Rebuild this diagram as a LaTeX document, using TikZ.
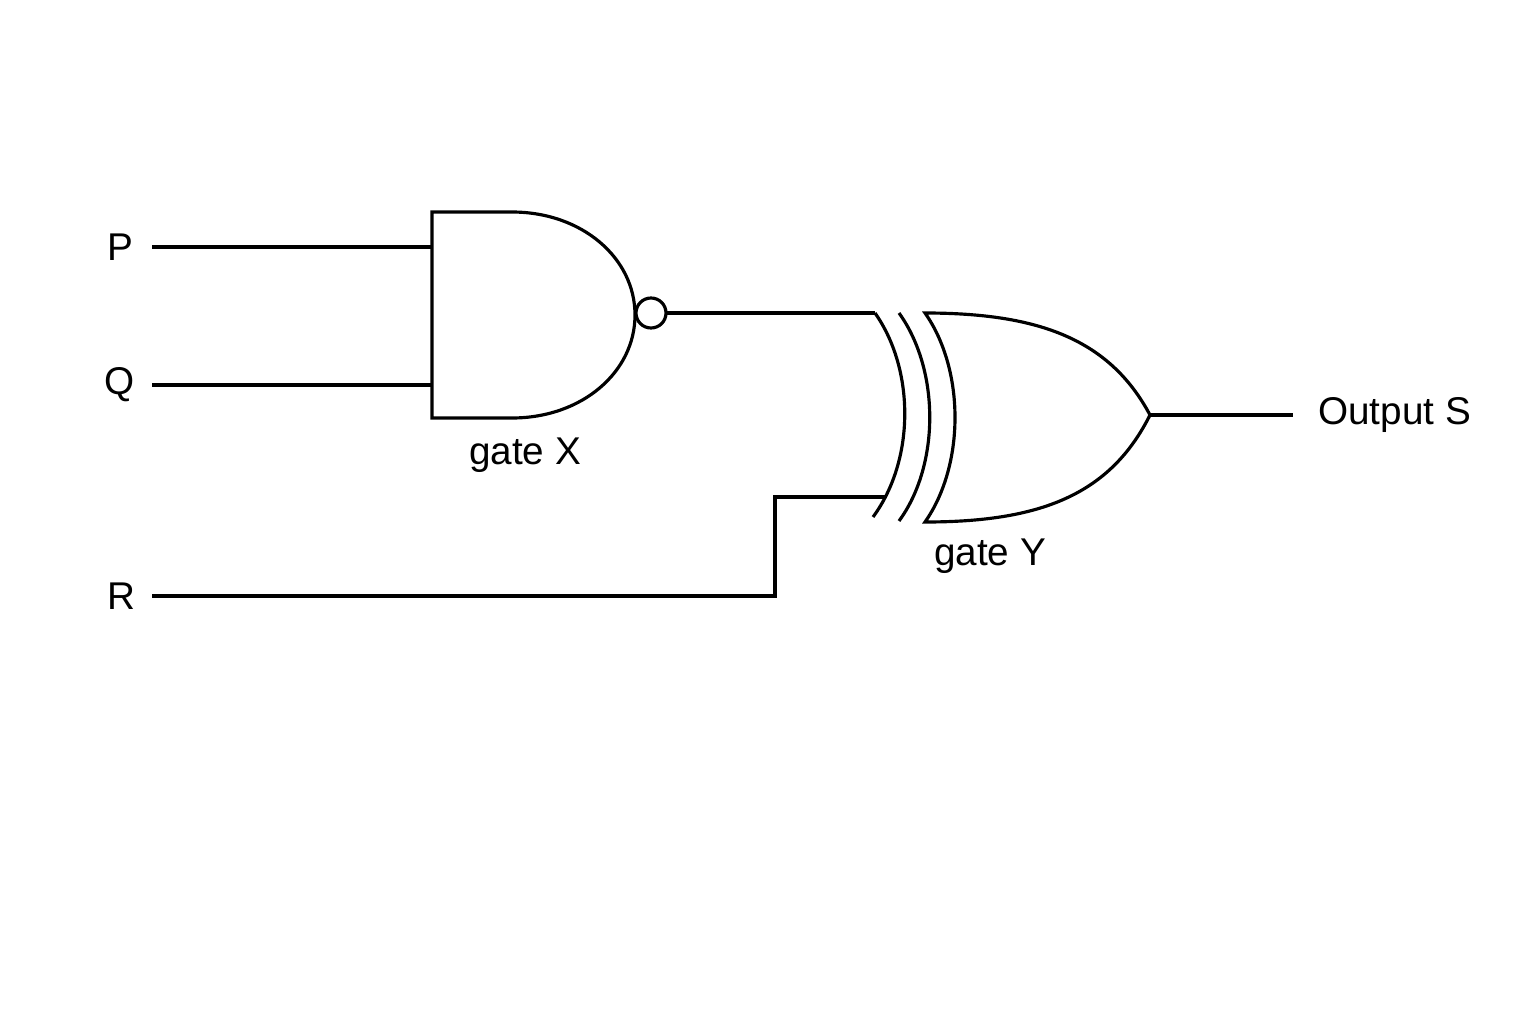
\documentclass[tikz,border=0pt]{standalone}
\usepackage{fontspec}
\setmainfont{Liberation Sans}
\begin{document}
\begin{tikzpicture}[x=0.01cm,y=-0.01cm,line width=0.9pt,
  lbl/.style={font=\fontsize{11}{13}\selectfont}]
\useasboundingbox (0,0) rectangle (1536,1024);
% labels
\node[lbl] (P) at (120,247) {P};
\node[lbl] (Q) at (120,385) {Q};
\node[lbl] (R) at (121,596) {R};
\node[lbl,anchor=west] (S) at (1305,415) {Output S};
\node[lbl] (gx) at (525,455) {gate X};
\node[lbl] (gy) at (990,556) {gate Y};
% coordinates
\coordinate (Pin) at (152,247);
\coordinate (Qin) at (152,385);
\coordinate (Rin) at (152,596);
\coordinate (XA) at (432,247);
\coordinate (XB) at (432,385);
\coordinate (Xout) at (666,313);
\coordinate (YA) at (875,313);
\coordinate (YB) at (885,497);
\coordinate (Rb) at (775,596);
\coordinate (Yout) at (1150,415);
\coordinate (Send) at (1293,415);
% gate X (NAND)
\draw (512,212) -- (432,212) -- (432,418) -- (512,418)
  .. controls (582,418) and (635,372) .. (635,315)
  .. controls (635,258) and (582,212) .. cycle;
\draw (651,313) circle[radius=15];
% gate Y
\draw (875,313) .. controls (915,370) and (915,460) .. (873,517);
\draw (899,313) .. controls (940,370) and (940,465) .. (899,521);
\draw (925,313) .. controls (965,370) and (965,465) .. (925,522)
  .. controls (1040,522) and (1110,495) .. (1150,415)
  .. controls (1110,340) and (1040,313) .. cycle;
% wires
\draw (Pin) -- (XA);
\draw (Qin) -- (XB);
\draw (Xout) -- (YA);
\draw (Rin) -- (Rb) |- (YB);
\draw (Yout) -- (Send);
\end{tikzpicture}
\end{document}
